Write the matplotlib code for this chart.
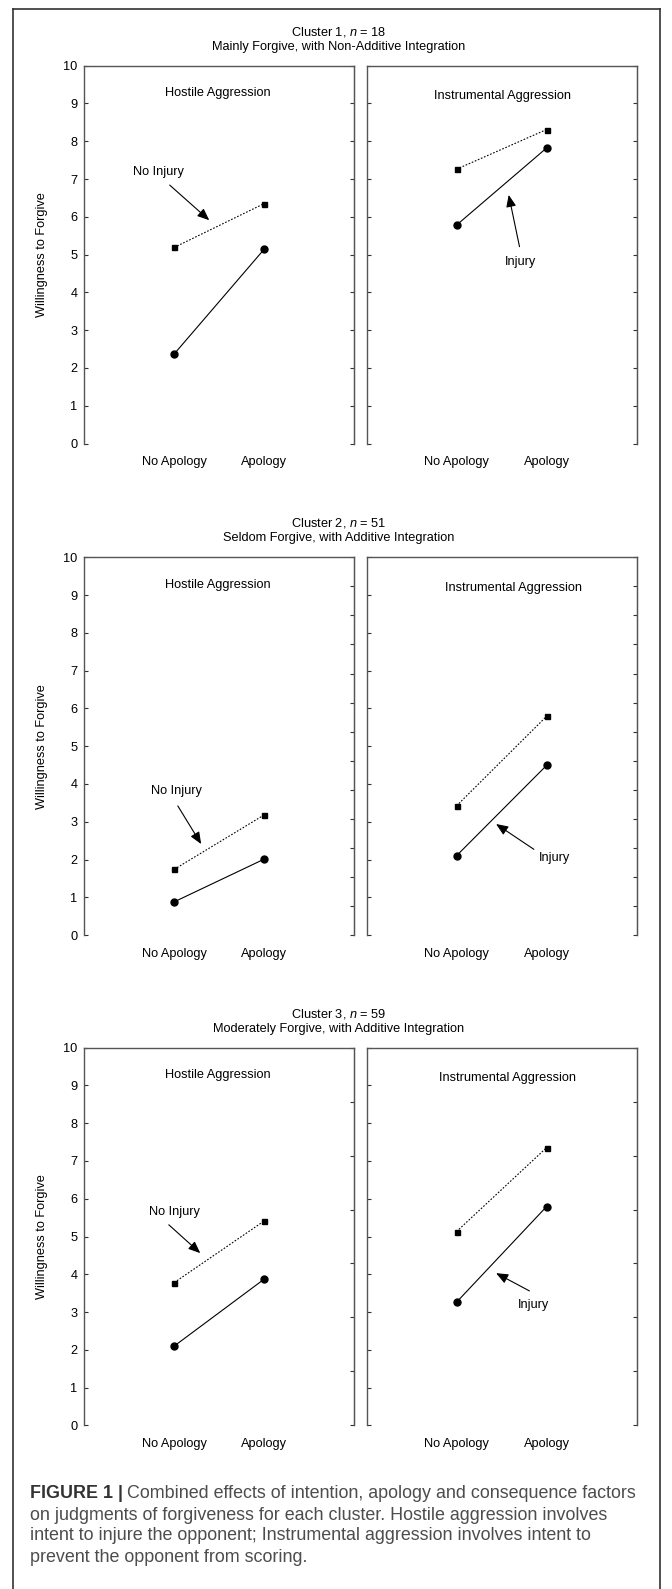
import matplotlib
matplotlib.use("Agg")
import matplotlib.pyplot as plt
import numpy as np
from matplotlib.lines import Line2D

plt.rcParams['font.family'] = ['Liberation Sans', 'DejaVu Sans']
plt.rcParams['mathtext.fontset'] = 'custom'
plt.rcParams['mathtext.it'] = 'Liberation Sans:italic'
plt.rcParams['mathtext.rm'] = 'Liberation Sans'

W, H = 672, 1589

# --- data ---
conditions = ['No Apology', 'Apology']
cluster_titles = ['Cluster 1, $n$ = 18', 'Cluster 2, $n$ = 51', 'Cluster 3, $n$ = 59']
cluster_subtitles = ['Mainly Forgive, with Non-Additive Integration',
                     'Seldom Forgive, with Additive Integration',
                     'Moderately Forgive, with Additive Integration']
yticks_right = [11, 14, 8]   # tick count on the inner right spines

c1_hostile_no_injury = [5.19, 6.35]
c1_hostile_injury = [2.37, 5.14]
c1_instr_no_injury = [7.26, 8.31]
c1_instr_injury = [5.78, 7.82]

c2_hostile_no_injury = [1.74, 3.18]
c2_hostile_injury = [0.88, 2.01]
c2_instr_no_injury = [3.42, 5.79]
c2_instr_injury = [2.10, 4.49]

c3_hostile_no_injury = [3.78, 5.41]
c3_hostile_injury = [2.10, 3.87]
c3_instr_no_injury = [5.13, 7.35]
c3_instr_injury = [3.26, 5.79]

hostile = [(c1_hostile_no_injury, c1_hostile_injury),
           (c2_hostile_no_injury, c2_hostile_injury),
           (c3_hostile_no_injury, c3_hostile_injury)]
instr = [(c1_instr_no_injury, c1_instr_injury),
         (c2_instr_no_injury, c2_instr_injury),
         (c3_instr_no_injury, c3_instr_injury)]

# annotation placement: (text xy, arrow tail, arrow tip) in data coords
no_injury_notes = [((0.82, 7.18), (0.95, 6.84), (1.39, 5.91)),
                   ((1.02, 3.81), (1.04, 3.42), (1.30, 2.41)),
                   ((1.00, 5.64), (0.94, 5.31), (1.29, 4.56))]
injury_notes = [((1.71, 4.81), (1.70, 5.21), (1.58, 6.58)),
                ((2.09, 2.05), (1.86, 2.27), (1.44, 2.94)),
                ((1.86, 3.18), (1.81, 3.56), (1.44, 4.03))]
instr_label_x = [1.51, 1.63, 1.57]

panel_tops = [65.7, 557.3, 1047.6]
ax_h = 377.8
spine_col = '#555555'
fs = 9.2

fig = plt.figure(figsize=(W / 100, H / 100), dpi=100)


def fx(px):
    return px / W


def fy(py):
    return 1 - py / H


def style_axes(ax, left_labels, nright):
    ax.set_xlim(0, 3)
    ax.set_ylim(0, 10)
    ax.spines['bottom'].set_visible(False)
    for s in ['left', 'top', 'right']:
        ax.spines[s].set_color(spine_col)
        ax.spines[s].set_linewidth(1.0)
    ax.set_xticks([1, 2])
    ax.set_xticklabels(conditions, fontsize=fs)
    ax.tick_params(axis='x', length=0, pad=9)
    ax.set_yticks(np.arange(0, 11, 1))
    ax.tick_params(axis='y', direction='in', length=3, width=0.8, color='#333333',
                   labelsize=fs, pad=5, left=True, right=False, labelleft=left_labels)
    sec = ax.secondary_yaxis('right')
    sec.set_yticks(np.linspace(0, 10, nright))
    sec.tick_params(direction='in', length=3, width=0.8, color='#333333', labelright=False)
    sec.spines['right'].set_color(spine_col)


def draw_pair(ax, no_inj, inj):
    x = [1, 2]
    ax.plot(x, no_inj, color='black', lw=0.8, ls=(0, (1.5, 1.5)),
            marker='s', ms=3.6, mfc='black', mec='black')
    ax.plot(x, inj, color='black', lw=0.8, ls='-',
            marker='o', ms=5.0, mfc='black', mec='black')


def note(ax, label, spec):
    txt, tail, tip = spec
    ax.text(txt[0], txt[1], label, fontsize=fs, ha='center', va='center')
    ax.annotate('', xy=tip, xytext=tail,
                arrowprops=dict(arrowstyle='-|>,head_length=0.6,head_width=0.25',
                                color='black', lw=0.8,
                                mutation_scale=12, shrinkA=0, shrinkB=0))


for i in range(3):
    top = panel_tops[i]
    b = fy(top + ax_h)
    axl = fig.add_axes([fx(84.3), b, fx(354 - 84.3), ax_h / H])
    axr = fig.add_axes([fx(366.5), b, fx(636.5 - 366.5), ax_h / H])
    style_axes(axl, True, yticks_right[i])
    style_axes(axr, False, yticks_right[i])

    draw_pair(axl, *hostile[i])
    draw_pair(axr, *instr[i])

    axl.text(1.49, 9.27, 'Hostile Aggression', fontsize=fs, ha='center', va='center')
    axr.text(instr_label_x[i], 9.19, 'Instrumental Aggression', fontsize=fs,
             ha='center', va='center')
    note(axl, 'No Injury', no_injury_notes[i])
    note(axr, 'Injury', injury_notes[i])

    axl.set_ylabel('Willingness to Forgive', fontsize=fs)
    axl.yaxis.set_label_coords(fx(48 - 84.3) / fx(354 - 84.3), 0.5)

    fig.text(fx(339), fy(top - 34), cluster_titles[i], fontsize=fs,
             ha='center', va='center')
    fig.text(fx(339), fy(top - 19), cluster_subtitles[i], fontsize=fs,
             ha='center', va='center')

# outer frame (open at the bottom, as in the cropped original)
frame_col = '#333333'
fig.add_artist(Line2D([fx(13), fx(13)], [fy(9), 0], color=frame_col, lw=1.2))
fig.add_artist(Line2D([fx(660), fx(660)], [fy(9), 0], color=frame_col, lw=1.2))
fig.add_artist(Line2D([fx(13), fx(660)], [fy(9), fy(9)], color=frame_col, lw=1.2))

# caption
cap_fs = 12.85
cap_lines = ['on judgments of forgiveness for each cluster. Hostile aggression involves',
             'intent to injure the opponent; Instrumental aggression involves intent to',
             'prevent the opponent from scoring.']
bold = fig.text(fx(30), fy(1494), 'FIGURE 1 |', fontsize=cap_fs, fontweight='bold',
                color='#333333', ha='left', va='center')
fig.canvas.draw()
bb = bold.get_window_extent()
fig.text(bb.x1 / W + fx(4), fy(1494),
         'Combined effects of intention, apology and consequence factors',
         fontsize=cap_fs, color='#4d4d4d', ha='left', va='center')
for k, line in enumerate(cap_lines):
    fig.text(fx(30), fy(1515 + 21 * k), line, fontsize=cap_fs, color='#4d4d4d',
             ha='left', va='center')

fig.savefig('out.png', dpi=100, facecolor='white')
